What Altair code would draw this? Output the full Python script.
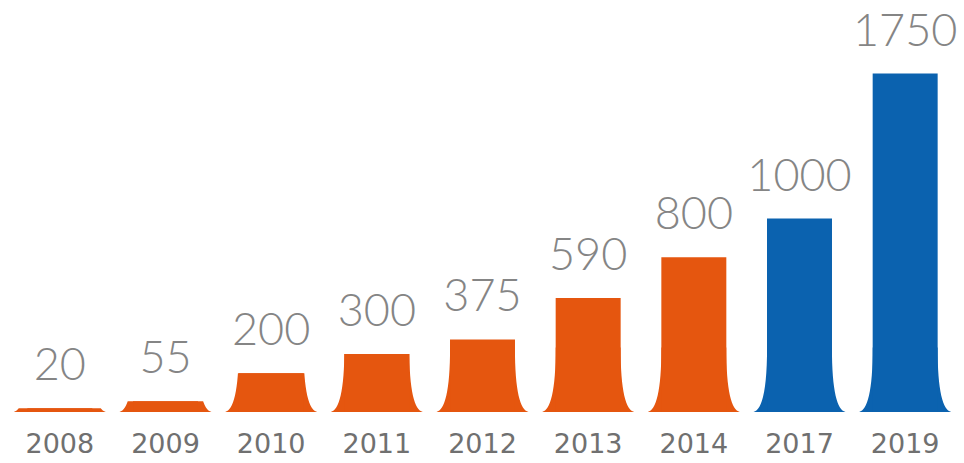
import altair as alt
import pandas as pd

years = ["2008", "2009", "2010", "2011", "2012", "2013", "2014", "2017", "2019"]
values = [20, 55, 200, 300, 375, 590, 800, 1000, 1750]
groups = ["actual"] * 7 + ["forecast"] * 2

df = pd.DataFrame({"year": years, "value": values, "group": groups})

FLARE = ("M -1 0 C -0.82 -0.04 -0.705 -0.45 -0.705 -1.4 "
         "L 0.705 -1.4 C 0.705 -0.45 0.82 -0.04 1 0 Z")

x = alt.X("year:N", sort=years, title=None,
          scale=alt.Scale(paddingInner=0.385, paddingOuter=0.1925),
          axis=alt.Axis(domain=False, ticks=False, labelAngle=0,
                        labelFont="DejaVu Sans", labelFontSize=27,
                        labelFontWeight="normal", labelColor="#707070",
                        labelPadding=19))
y_scale = alt.Scale(domain=[0, 2130], nice=False)
color = alt.Color("group:N", legend=None,
                  scale=alt.Scale(domain=["actual", "forecast"],
                                  range=["#E5560F", "#0B62AF"]))

base = alt.Chart(df)

flare = base.transform_calculate(zero="0").mark_point(
    shape=FLARE, size=92 * 92, filled=True, opacity=1, strokeWidth=0).encode(
    x=x, y=alt.Y("zero:Q", scale=y_scale, axis=None), color=color)

mask = base.transform_calculate(top="datum.value + 400").mark_bar(
    color="white", width=100).encode(
    x=x, y=alt.Y("value:Q", scale=y_scale, axis=None), y2="top:Q")

bars = base.mark_bar().encode(
    x=x, y=alt.Y("value:Q", scale=y_scale, axis=None), color=color)

labels = base.mark_text(font="Lato", fontWeight=300, fontSize=45,
                        color="#858585", baseline="alphabetic",
                        dy=-28).encode(
    x=x, y=alt.Y("value:Q", scale=y_scale, axis=None), text="value:Q")

chart = alt.layer(flare, mask, bars, labels).properties(
    width=951, height=412,
    autosize=alt.AutoSizeParams(type="none"),
    padding={"left": 7, "top": 0, "right": 6, "bottom": 51},
    background="white",
).configure_view(stroke=None).configure_axis(grid=False)

chart.save("out.html", embed_options={"renderer": "svg", "actions": False})
